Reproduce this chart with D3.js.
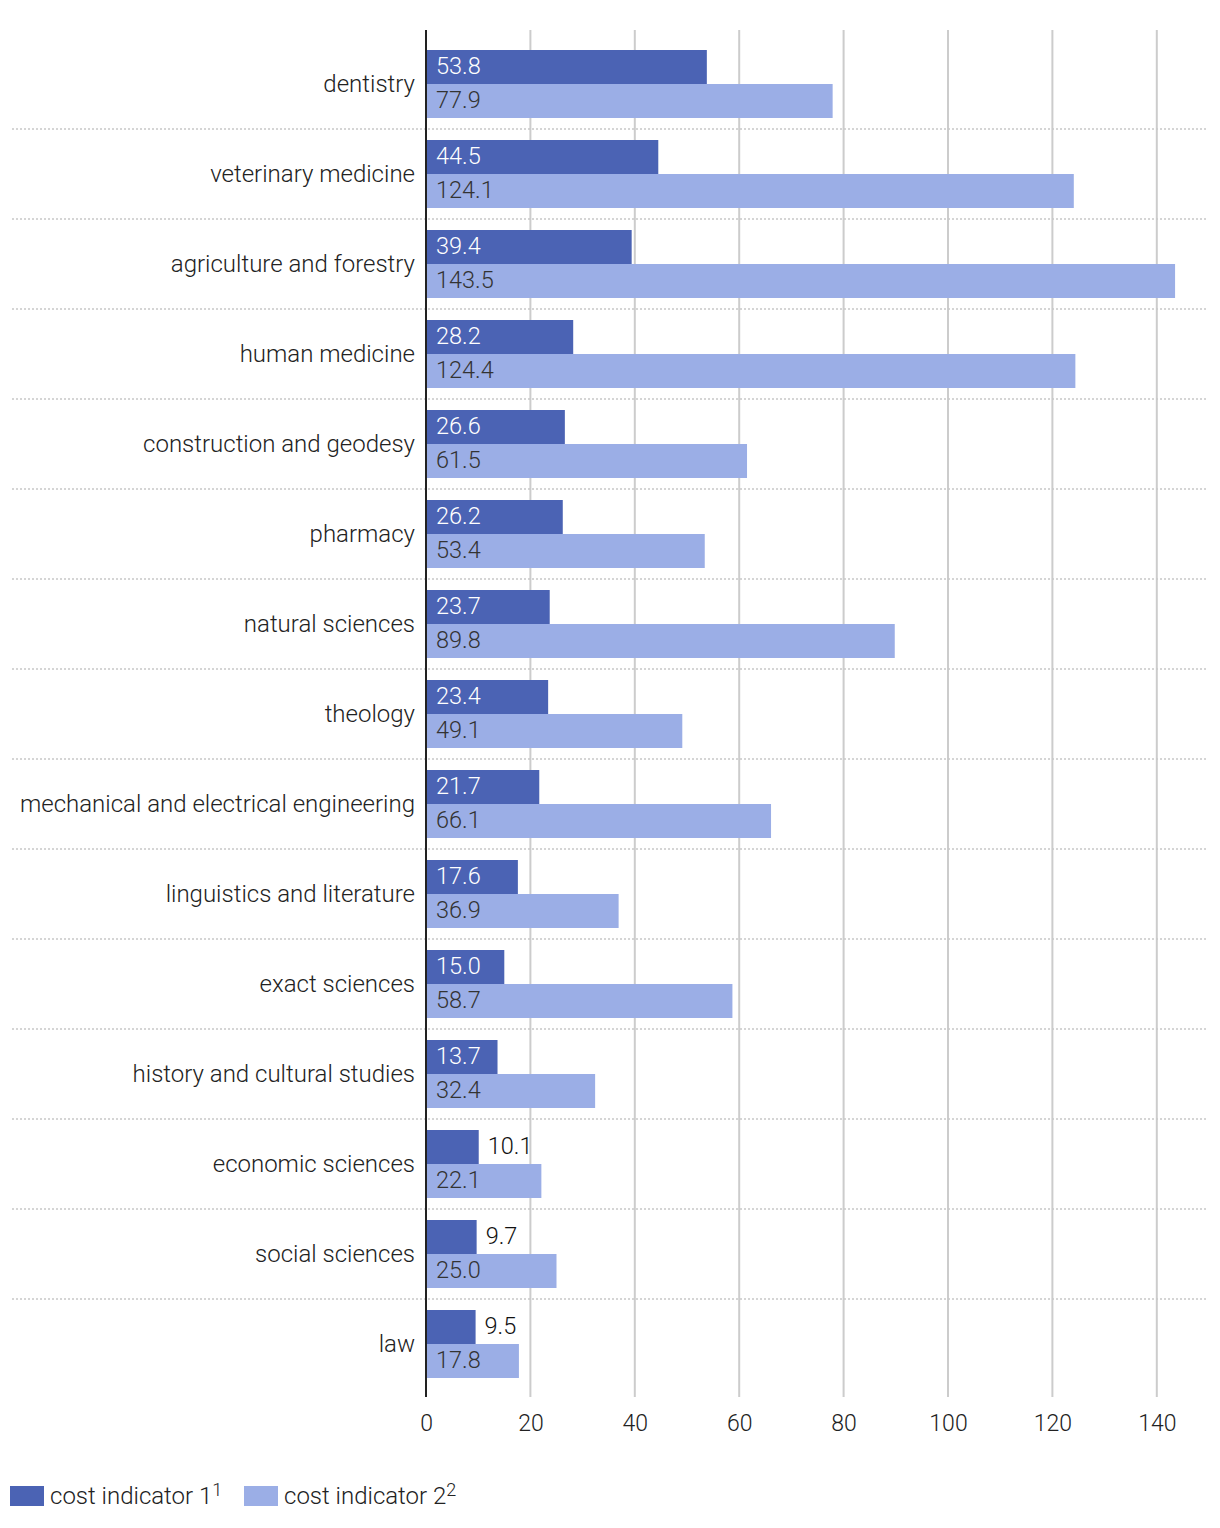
<!DOCTYPE html>
<html><head><meta charset="utf-8">
<script src="https://cdn.jsdelivr.net/npm/d3@7/dist/d3.min.js"></script>
<style>body{margin:0;background:#fff;} svg{display:block;font-family:Roboto, sans-serif;}</style>
</head><body><svg id="c" width="1220" height="1528"></svg>
<script>
const categories = ["dentistry","veterinary medicine","agriculture and forestry","human medicine","construction and geodesy","pharmacy","natural sciences","theology","mechanical and electrical engineering","linguistics and literature","exact sciences","history and cultural studies","economic sciences","social sciences","law"];
const indicator1 = [53.8,44.5,39.4,28.2,26.6,26.2,23.7,23.4,21.7,17.6,15.0,13.7,10.1,9.7,9.5];
const indicator2 = [77.9,124.1,143.5,124.4,61.5,53.4,89.8,49.1,66.1,36.9,58.7,32.4,22.1,25.0,17.8];
const xTicks = [0,20,40,60,80,100,120,140];
const seriesNames = ["cost indicator 1","cost indicator 2"];
const seriesSup = ["1","2"];
const colors = ["#4B63B4","#9BAEE6"];

const svg = d3.select("#c");
const x = d3.scaleLinear().domain([0,150]).range([426,1209]);
const y = d3.scaleBand().domain(categories).range([39,1389]);
const plotTop = 30, plotBottom = 1397;

// grid
svg.append("g").selectAll("line").data(xTicks.filter(d=>d>0)).join("line")
  .attr("x1",d=>x(d)).attr("x2",d=>x(d)).attr("y1",plotTop).attr("y2",plotBottom)
  .attr("stroke","#cccccc").attr("stroke-width",2);

// separators
svg.append("g").selectAll("line").data(categories.slice(0,-1)).join("line")
  .attr("x1",12).attr("x2",1208)
  .attr("y1",d=>y(d)+y.bandwidth()).attr("y2",d=>y(d)+y.bandwidth())
  .attr("stroke","#c8c8c8").attr("stroke-width",1.5).attr("stroke-dasharray","2,2");

const barH = 34;
const data = categories.map((c,i)=>({c, v:[indicator1[i],indicator2[i]]}));
const g = svg.append("g");
data.forEach(d=>{
  const cy = y(d.c)+y.bandwidth()/2;
  d.v.forEach((v,j)=>{
    const y0 = cy - barH + j*barH;
    g.append("rect").attr("x",x(0)).attr("y",y0).attr("width",x(v)-x(0)).attr("height",barH).attr("fill",colors[j]);
    const inside = (x(v)-x(0)) > 70;
    g.append("text").attr("x", inside ? x(0)+10 : x(v)+9).attr("y",y0+barH/2)
      .attr("dy","0.3em").attr("font-size",23.5).attr("font-weight",300)
      .attr("fill", inside ? (j===0?"#ffffff":"#333333") : "#111111")
      .text(v.toFixed(1));
  });
  svg.append("text").attr("x",415).attr("y",cy).attr("dy","0.33em").attr("text-anchor","end")
    .attr("font-size",24).attr("font-weight",300).attr("fill","#222").text(d.c);
});

// axis line
svg.append("line").attr("x1",x(0)).attr("x2",x(0)).attr("y1",plotTop).attr("y2",plotBottom).attr("stroke","#222").attr("stroke-width",2);

// x tick labels
const xAxis = d3.axisBottom(x).tickValues(xTicks).tickSize(0).tickPadding(0);
const ax = svg.append("g").attr("transform",`translate(0,${plotBottom+26})`).call(xAxis);
ax.select(".domain").remove();
ax.selectAll("text").attr("font-size",23).attr("font-weight",300).attr("fill","#222").attr("font-family","Roboto, sans-serif").attr("dy","0.33em").attr("y",0);

// legend
const lx = [10,244];
seriesNames.forEach((n,i)=>{
  svg.append("rect").attr("x",lx[i]).attr("y",1486).attr("width",34).attr("height",20).attr("fill",colors[i]);
  const t = svg.append("text").attr("x",lx[i]+40).attr("y",1496).attr("dy","0.33em").attr("font-size",24).attr("font-weight",300).attr("fill","#222");
  t.append("tspan").text(n);
  t.append("tspan").attr("dy","-0.45em").attr("font-size",18).text(seriesSup[i]);
});
</script></body></html>
